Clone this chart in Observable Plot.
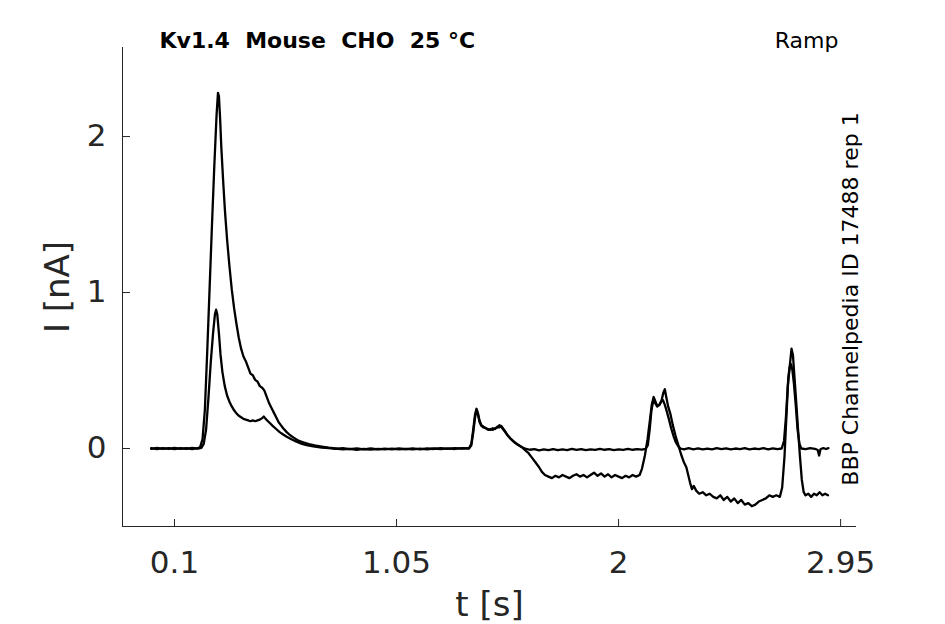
<!DOCTYPE html>
<html><head><meta charset="utf-8">
<script src="https://cdn.jsdelivr.net/npm/d3@7"></script>
<script src="https://cdn.jsdelivr.net/npm/@observablehq/plot@0.6"></script>
<style>
html,body{margin:0;padding:0;background:#fff;}
svg text{white-space:pre;}
</style></head><body><div id="chart"></div>
<script>
const xTicks = [0.1, 1.05, 2, 2.95];
const yTicks = [0, 1, 2];
const xDomain = [-0.1225, 3.018];
const yDomain = [-0.5, 2.571];
const title = "Kv1.4  Mouse  CHO  25 °C";
const protocol = "Ramp";
const sideNote = "BBP Channelpedia ID 17488 rep 1";
const xLabel = "t [s]";
const yLabel = "I [nA]";

const timeA = [0.000,0.025,0.050,0.075,0.100,0.125,0.150,0.175,0.200,0.210,
0.220,0.230,0.240,0.250,0.260,0.270,0.280,0.286,0.290,0.295,0.300,0.308,0.316,0.325,0.335,0.345,0.355,0.365,0.375,0.385,0.395,0.405,0.415,0.425,0.435,0.445,0.455,0.465,0.475,0.485,0.495,0.505,0.515,0.525,0.535,0.545,0.555,0.565,0.580,0.595,0.610,0.630,0.650,0.675,0.700,0.730,0.760,0.790,0.820,0.850,0.880,0.910,0.940,0.970,1.000,1.030,1.060,1.090,1.120,1.150,1.180,1.210,1.240,1.270,1.300,1.330,1.360,
1.370,1.378,1.386,1.392,1.398,1.405,1.413,1.422,1.432,1.442,1.452,1.462,1.472,1.482,1.490,1.498,1.505,1.515,1.525,1.540,1.555,1.570,1.585,1.600,1.615,1.630,1.645,1.660,1.672,1.685,1.700,1.715,1.730,1.745,1.760,1.775,1.790,1.805,1.820,1.835,1.850,1.865,1.880,1.895,1.910,1.925,1.940,1.955,1.970,1.985,2.000,2.015,2.030,2.045,2.060,2.075,2.090,
2.100,2.112,2.124,2.134,2.142,2.150,2.158,2.166,2.175,2.184,2.192,2.198,2.204,2.212,2.222,2.232,2.244,2.256,2.268,2.280,2.290,2.298,2.306,2.314,2.322,2.332,2.345,2.360,2.375,2.390,2.405,2.420,2.435,2.450,2.465,2.480,2.495,2.510,2.525,2.540,2.555,2.570,2.585,2.600,2.615,2.630,2.645,2.660,2.675,2.690,
2.700,2.710,2.718,2.726,2.734,2.740,2.746,2.753,2.760,2.768,2.776,2.784,2.792,2.800,2.812,2.824,2.836,2.848,2.860,2.872,2.884,2.896];
const currentA = [0.003,-0.004,0.002,-0.003,0.004,-0.002,0.003,-0.004,0.002,0.01,
0.06,0.25,0.62,1.02,1.42,1.80,2.14,2.28,2.26,2.12,1.94,1.72,1.52,1.34,1.17,1.02,0.90,0.80,0.71,0.64,0.59,0.56,0.52,0.48,0.47,0.44,0.43,0.40,0.39,0.37,0.33,0.29,0.26,0.23,0.20,0.17,0.15,0.13,0.105,0.085,0.07,0.05,0.04,0.028,0.02,0.012,0.005,0.0,-0.006,-0.002,-0.008,-0.003,-0.007,-0.002,-0.006,-0.001,-0.005,-0.002,-0.006,-0.001,-0.005,0.0,-0.004,0.001,-0.003,0.002,0.0,
0.03,0.12,0.22,0.255,0.23,0.18,0.15,0.14,0.13,0.125,0.12,0.13,0.125,0.14,0.135,0.145,0.13,0.11,0.085,0.06,0.04,0.025,0.01,-0.01,-0.03,-0.06,-0.09,-0.12,-0.15,-0.17,-0.18,-0.19,-0.175,-0.185,-0.17,-0.18,-0.19,-0.175,-0.165,-0.18,-0.17,-0.185,-0.17,-0.155,-0.175,-0.16,-0.18,-0.165,-0.185,-0.17,-0.18,-0.19,-0.175,-0.185,-0.17,-0.18,-0.17,
-0.13,-0.05,0.06,0.18,0.28,0.33,0.30,0.27,0.28,0.31,0.36,0.38,0.33,0.27,0.22,0.15,0.08,0.02,-0.04,-0.09,-0.12,-0.17,-0.22,-0.26,-0.24,-0.27,-0.29,-0.28,-0.30,-0.29,-0.31,-0.32,-0.30,-0.33,-0.31,-0.34,-0.32,-0.35,-0.33,-0.36,-0.35,-0.37,-0.36,-0.34,-0.33,-0.32,-0.30,-0.31,-0.30,-0.31,
-0.25,-0.05,0.2,0.45,0.55,0.64,0.6,0.45,0.3,0.12,-0.05,-0.2,-0.28,-0.30,-0.29,-0.31,-0.29,-0.30,-0.28,-0.30,-0.29,-0.30];

const timeB = [0.000,0.025,0.050,0.075,0.100,0.125,0.150,0.175,0.200,0.215,
0.225,0.235,0.245,0.255,0.265,0.273,0.278,0.283,0.290,0.297,0.305,0.315,0.325,0.335,0.345,0.355,0.365,0.375,0.385,0.395,0.405,0.415,0.425,0.435,0.445,0.455,0.465,0.475,0.482,0.490,0.500,0.510,0.520,0.535,0.550,0.565,0.580,0.600,0.620,0.645,0.670,0.700,0.730,0.760,0.790,0.820,0.850,0.880,0.910,0.940,0.970,1.000,1.030,1.060,1.090,1.120,1.150,1.180,1.210,1.240,1.270,1.300,1.330,1.360,
1.370,1.378,1.386,1.392,1.398,1.405,1.413,1.422,1.432,1.442,1.452,1.462,1.472,1.482,1.490,1.498,1.505,1.515,1.525,1.540,1.555,1.570,1.585,1.600,1.620,1.640,1.660,1.680,1.700,1.720,1.740,1.760,1.780,1.800,1.820,1.840,1.860,1.880,1.900,1.920,1.940,1.960,1.980,2.000,2.020,2.040,2.060,2.080,2.100,2.115,2.125,
2.133,2.141,2.149,2.157,2.165,2.174,2.183,2.190,2.198,2.206,2.215,2.225,2.235,2.245,2.255,2.265,2.280,2.300,2.320,2.340,2.360,2.380,2.400,2.420,2.440,2.460,2.480,2.500,2.520,2.540,2.560,2.580,2.600,2.620,2.640,2.660,2.680,2.698,
2.708,2.716,2.724,2.732,2.738,2.744,2.750,2.758,2.766,2.774,2.782,2.800,2.820,2.840,2.852,2.858,2.864,2.876,2.888,2.898];
const currentB = [-0.002,0.004,-0.003,0.002,-0.004,0.003,-0.002,0.004,-0.001,0.004,
0.03,0.12,0.32,0.55,0.74,0.86,0.89,0.86,0.74,0.60,0.49,0.40,0.34,0.30,0.27,0.245,0.225,0.21,0.2,0.19,0.185,0.18,0.175,0.18,0.175,0.18,0.185,0.195,0.205,0.19,0.175,0.16,0.145,0.125,0.105,0.09,0.075,0.06,0.045,0.03,0.02,0.012,0.006,0.002,-0.003,0.003,-0.004,0.001,-0.005,0.0,-0.006,-0.001,-0.005,0.0,-0.004,0.001,-0.005,0.0,-0.003,0.002,-0.002,0.002,-0.001,0.002,
0.02,0.1,0.2,0.24,0.22,0.17,0.145,0.135,0.13,0.12,0.125,0.12,0.13,0.135,0.15,0.14,0.125,0.105,0.085,0.06,0.04,0.022,0.01,0.0,-0.008,-0.004,-0.012,-0.006,-0.01,-0.004,-0.011,-0.005,-0.01,-0.003,-0.009,-0.004,-0.01,-0.005,-0.009,-0.003,-0.008,-0.004,-0.01,-0.005,-0.009,-0.003,-0.008,-0.004,-0.007,-0.002,0.02,
0.12,0.25,0.31,0.29,0.27,0.28,0.3,0.31,0.28,0.24,0.19,0.13,0.08,0.04,0.015,0.0,-0.006,0.002,-0.005,0.001,-0.006,0.0,-0.005,0.002,-0.004,0.001,-0.006,0.0,-0.004,0.002,-0.005,0.0,-0.004,0.002,-0.005,0.001,-0.004,0.0,
0.05,0.2,0.4,0.52,0.54,0.5,0.42,0.28,0.12,0.03,0.0,-0.004,0.003,-0.002,-0.01,-0.045,-0.005,0.003,-0.003,0.002];

const rows = [
  ...timeA.map((t, i) => ({t, I: currentA[i], trace: "A"})),
  ...timeB.map((t, i) => ({t, I: currentB[i], trace: "B"}))
];

const axisColor = "#262626";

const chart = Plot.plot({
  width: 945,
  height: 624,
  marginLeft: 122,
  marginRight: 89,
  marginTop: 47,
  marginBottom: 98,
  style: {fontFamily: "DejaVu Sans", background: "white", overflow: "visible"},
  x: {domain: xDomain},
  y: {domain: yDomain},
  marks: [
    Plot.line(rows, {x: "t", y: "I", z: "trace", stroke: "black", strokeWidth: 2.3}),
    Plot.ruleX([xDomain[0]], {stroke: axisColor, strokeWidth: 1}),
    Plot.ruleY([yDomain[0]], {stroke: axisColor, strokeWidth: 1}),
    Plot.axisX(xTicks, {anchor: "bottom", tickSize: -7, tickPadding: 31, fontSize: 31, color: axisColor, label: null, tickFormat: d => String(d)}),
    Plot.axisY(yTicks, {anchor: "left", tickSize: -8, tickPadding: 24, fontSize: 31, color: axisColor, label: null, tickFormat: d => String(d)}),
    Plot.text([xLabel], {text: d => d, frameAnchor: "bottom", dy: 89, lineAnchor: "bottom", textAnchor: "middle", fontSize: 34, fill: axisColor}),
    Plot.text([yLabel], {text: d => d, frameAnchor: "left", dx: -54, rotate: -90, lineAnchor: "bottom", textAnchor: "middle", fontSize: 34, fill: axisColor}),
    Plot.text([title], {text: d => d, frameAnchor: "top-left", dx: 37, dy: 0, lineAnchor: "bottom", textAnchor: "start", fontSize: 22, fontWeight: "bold", fill: "black"}),
    Plot.text([protocol], {text: d => d, frameAnchor: "top-right", dx: -18, dy: 0, lineAnchor: "bottom", textAnchor: "end", fontSize: 22, fill: "black"}),
    Plot.text([sideNote], {text: d => d, frameAnchor: "right", dx: 1, dy: 12, rotate: -90, lineAnchor: "bottom", textAnchor: "middle", fontSize: 22, fill: "black"})
  ]
});
document.getElementById("chart").appendChild(chart);
</script></body></html>
